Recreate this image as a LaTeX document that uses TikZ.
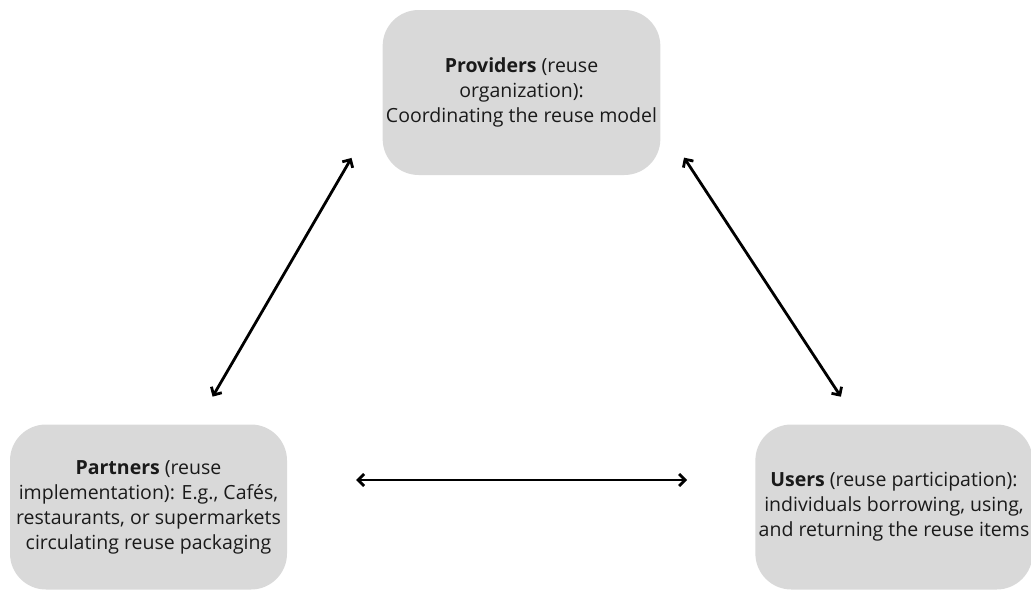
\documentclass[tikz,border=0pt]{standalone}
\usepackage{fontspec}
\setmainfont{Open Sans}
\usetikzlibrary{arrows.meta}

\definecolor{boxgrey}{HTML}{D9D9D9}
\definecolor{inkdark}{HTML}{1A1A1A}

\tikzset{
  actor/.style={rectangle, rounded corners=36pt, fill=boxgrey, draw=none,
    minimum width=277pt, minimum height=165pt, align=center, text=inkdark,
    font=\fontsize{19.5}{25}\selectfont},
  link/.style={{Straight Barb[length=6pt,width=12pt]}-{Straight Barb[length=6pt,width=12pt]},
    line width=2.8pt, black}
}

\begin{document}
\begin{tikzpicture}[x=1pt, y=-1pt]
    \useasboundingbox (0,0) rectangle (1031,590);

    % Akteure
    \node[actor] (providers) at (521.5, 92.5) {\textbf{Providers} (reuse\\organization):\\Coordinating the reuse model};
    \node[actor] (partners) at (148.5, 507) {\textbf{Partners} (reuse\\implementation): E.g., Cafés,\\restaurants, or supermarkets\\circulating reuse packaging};
    \node[actor, minimum width=274pt] (users) at (894, 507) {\textbf{Users} (reuse participation):\\individuals borrowing, using,\\and returning the reuse items};

    % Verbindungen
    \draw[link, shorten <=32pt, shorten >=-20pt] ([xshift=48pt]partners.north) -- ([xshift=-41pt]providers.south west);
    \draw[link, shorten <=-21pt, shorten >=33pt] ([xshift=35pt]providers.south east) -- ([xshift=-35pt]users.north);
    \draw[link, shorten <=69pt, shorten >=68pt] ([yshift=27pt]partners.east) -- ([yshift=27pt]users.west);
\end{tikzpicture}
\end{document}
